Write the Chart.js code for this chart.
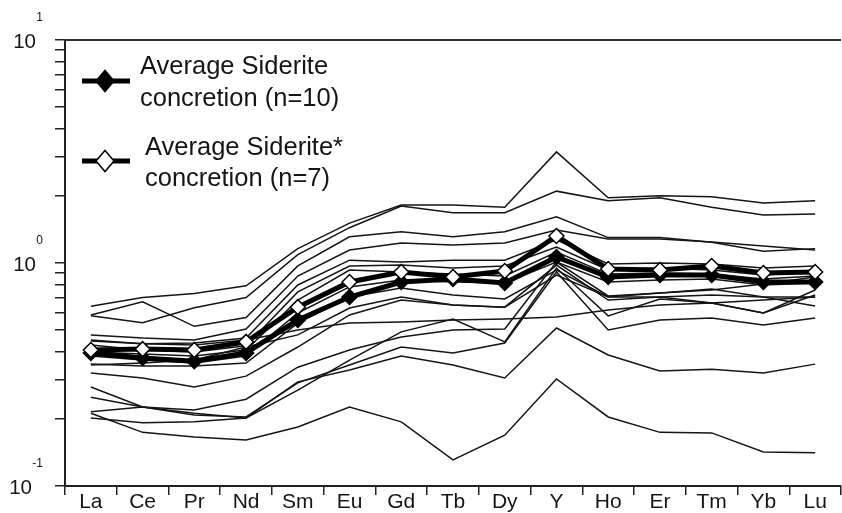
<!DOCTYPE html>
<html><head><meta charset="utf-8">
<script src="https://cdn.jsdelivr.net/npm/chart.js@4.4.0/dist/chart.umd.min.js"></script>
<style>html,body{margin:0;padding:0;background:#fff;overflow:hidden;}canvas{display:block;}</style>
</head><body>
<canvas id="c" width="850" height="513"></canvas>
<script>
const categories = ['La','Ce','Pr','Nd','Sm','Eu','Gd','Tb','Dy','Y','Ho','Er','Tm','Yb','Lu'];

// averages
const avgSiderite     = [0.395,0.375,0.363,0.395,0.555,0.704,0.822,0.848,0.813,1.064,0.865,0.883,0.883,0.822,0.822];
const avgSideriteStar = [0.407,0.411,0.407,0.443,0.634,0.822,0.911,0.865,0.921,1.322,0.940,0.930,0.969,0.902,0.911];

// individual samples
const s01 = [0.64,0.70,0.73,0.79,1.16,1.51,1.82,1.82,1.78,3.15,1.96,2.00,1.98,1.86,1.90];
const s02 = [0.58,0.54,0.63,0.70,1.09,1.44,1.80,1.68,1.68,2.10,1.90,1.96,1.78,1.64,1.66];
const s03 = [0.585,0.67,0.52,0.57,0.97,1.31,1.38,1.31,1.38,1.61,1.30,1.30,1.24,1.13,1.16];
const s04 = [0.476,0.461,0.452,0.506,0.874,1.144,1.229,1.204,1.229,1.406,1.281,1.281,1.242,1.192,1.144];
const s05 = [0.447,0.434,0.438,0.461,0.797,1.03,1.01,1.03,1.03,1.27,0.99,1.00,0.99,0.95,0.97];
const s06 = [0.429,0.407,0.399,0.425,0.742,0.969,0.979,0.949,0.969,1.18,0.93,0.949,0.93,0.883,0.911];
const s07 = [0.399,0.391,0.383,0.407,0.682,0.93,0.911,0.892,0.874,1.12,0.892,0.902,0.892,0.848,0.874];
const s08 = [0.383,0.367,0.356,0.383,0.597,0.781,0.839,0.822,0.813,1.01,0.822,0.839,0.848,0.797,0.813];
const s09 = [0.352,0.345,0.345,0.356,0.538,0.704,0.773,0.719,0.69,0.93,0.704,0.734,0.765,0.704,0.704];
const s10 = [0.349,0.356,0.367,0.42,0.476,0.628,0.704,0.648,0.634,0.979,0.682,0.704,0.661,0.597,0.757];
const s11 = [0.452,0.434,0.429,0.452,0.501,0.538,0.544,0.555,0.561,0.573,0.616,0.648,0.661,0.682,0.704];
const s12 = [0.321,0.305,0.278,0.311,0.42,0.585,0.682,0.648,0.634,0.883,0.704,0.704,0.719,0.704,0.641];
const s13 = [0.278,0.226,0.208,0.204,0.29,0.349,0.42,0.395,0.438,0.911,0.501,0.555,0.567,0.527,0.567];
const s14 = [0.25,0.226,0.212,0.202,0.293,0.331,0.383,0.349,0.305,0.511,0.387,0.328,0.334,0.321,0.352];
const s15 = [0.212,0.174,0.166,0.161,0.184,0.226,0.194,0.131,0.169,0.302,0.204,0.174,0.173,0.142,0.141];
const s16 = [0.215,0.226,0.219,0.245,0.341,0.407,0.466,0.501,0.506,1.01,0.712,0.734,0.757,0.805,0.865];
const s17 = [0.202,0.192,0.194,0.202,0.269,0.367,0.491,0.561,0.443,0.949,0.579,0.69,0.661,0.597,0.719];
const samples = [s01,s02,s03,s04,s05,s06,s07,s08,s09,s10,s11,s12,s13,s14,s15,s16,s17];

const yTickValues = [0.1,0.2,0.3,0.4,0.5,0.6,0.7,0.8,0.9,1,2,3,4,5,6,7,8,9,10];
const yMajorTicks = [0.1,1,10];
const yMajorExponents = ['-1','0','1'];
const legendLabels = [['Average Siderite','concretion (n=10)'],['Average Siderite*','concretion (n=7)']];

const FONT = "'Liberation Sans', Arial, sans-serif";
const INK = '#151515';

const datasets = [
  {label:'Average Siderite* concretion (n=7)', data:avgSideriteStar, borderColor:'#000', borderWidth:5,
   pointStyle:'rectRot', pointRadius:7.5, pointBackgroundColor:'#fff', pointBorderColor:'#000', pointBorderWidth:1.5, tension:0},
  {label:'Average Siderite concretion (n=10)', data:avgSiderite, borderColor:'#000', borderWidth:5,
   pointStyle:'rectRot', pointRadius:7.5, pointBackgroundColor:'#000', pointBorderColor:'#000', pointBorderWidth:1.5, tension:0}
].concat(samples.map((s,i)=>({label:'sample '+(i+1), data:s, borderColor:INK, borderWidth:1.5, pointRadius:0, tension:0})));

const decor = {
  id:'decor',
  afterDraw(chart){
    const ctx = chart.ctx, a = chart.chartArea, y = chart.scales.y;
    ctx.save();
    // top frame line
    ctx.strokeStyle = '#333'; ctx.lineWidth = 2;
    ctx.beginPath(); ctx.moveTo(a.left, a.top); ctx.lineTo(a.right, a.top); ctx.stroke();
    // y labels 10^n
    ctx.fillStyle = INK; ctx.textAlign = 'right'; ctx.textBaseline = 'middle';
    yMajorTicks.forEach((v,i)=>{
      const py = y.getPixelForValue(v);
      const xr = i===0 ? 32 : 36;
      ctx.font = '20.5px ' + FONT;
      ctx.fillText('10', xr, py + 2.5);
      ctx.font = '12px ' + FONT;
      ctx.fillText(yMajorExponents[i], 43, py - 22);
    });
    // legend
    const items = [
      {ly:81, fill:'#000', tx:140, b1:74, b2:106},
      {ly:161, fill:'#fff', tx:145, b1:155, b2:186}
    ];
    items.forEach((it,i)=>{
      ctx.strokeStyle = '#000'; ctx.lineWidth = 5;
      ctx.beginPath(); ctx.moveTo(82, it.ly); ctx.lineTo(130, it.ly); ctx.stroke();
      ctx.beginPath();
      ctx.moveTo(105 - 9, it.ly); ctx.lineTo(105, it.ly - 10.5); ctx.lineTo(105 + 9, it.ly); ctx.lineTo(105, it.ly + 10.5); ctx.closePath();
      ctx.fillStyle = it.fill; ctx.fill();
      ctx.lineWidth = 1.5; ctx.stroke();
      ctx.fillStyle = INK; ctx.font = '25.5px ' + FONT; ctx.textAlign = 'left'; ctx.textBaseline = 'alphabetic';
      ctx.fillText(legendLabels[i][0], it.tx, it.b1);
      ctx.fillText(legendLabels[i][1], it.tx, it.b2);
    });
    ctx.restore();
  }
};

new Chart(document.getElementById('c'), {
  type:'line',
  data:{labels:categories, datasets},
  options:{
    responsive:false, animation:false, devicePixelRatio:1,
    layout:{padding:{left:0, top:40, right:3, bottom:0}},
    plugins:{legend:{display:false}, tooltip:{enabled:false}},
    elements:{line:{borderJoinStyle:'miter'}},
    scales:{
      x:{
        type:'category', offset:true,
        grid:{offset:true, drawOnChartArea:false, drawTicks:true, tickLength:9, color:'#222', lineWidth:1.5},
        border:{display:true, color:'#222', width:2},
        ticks:{color:INK, font:{family:FONT, size:21}, padding:-5, maxRotation:0, autoSkip:false},
        afterFit(s){ s.height = 27; }
      },
      y:{
        type:'logarithmic', min:0.1, max:10,
        afterBuildTicks(s){ s.ticks = yTickValues.map(v=>({value:v})); },
        grid:{drawOnChartArea:false, drawTicks:true, tickLength:10, color:'#222', lineWidth:1.5},
        border:{display:true, color:'#222', width:2},
        ticks:{callback:()=>'', autoSkip:false},
        afterFit(s){ s.width = 65; }
      }
    }
  },
  plugins:[decor]
});
</script>
</body></html>
